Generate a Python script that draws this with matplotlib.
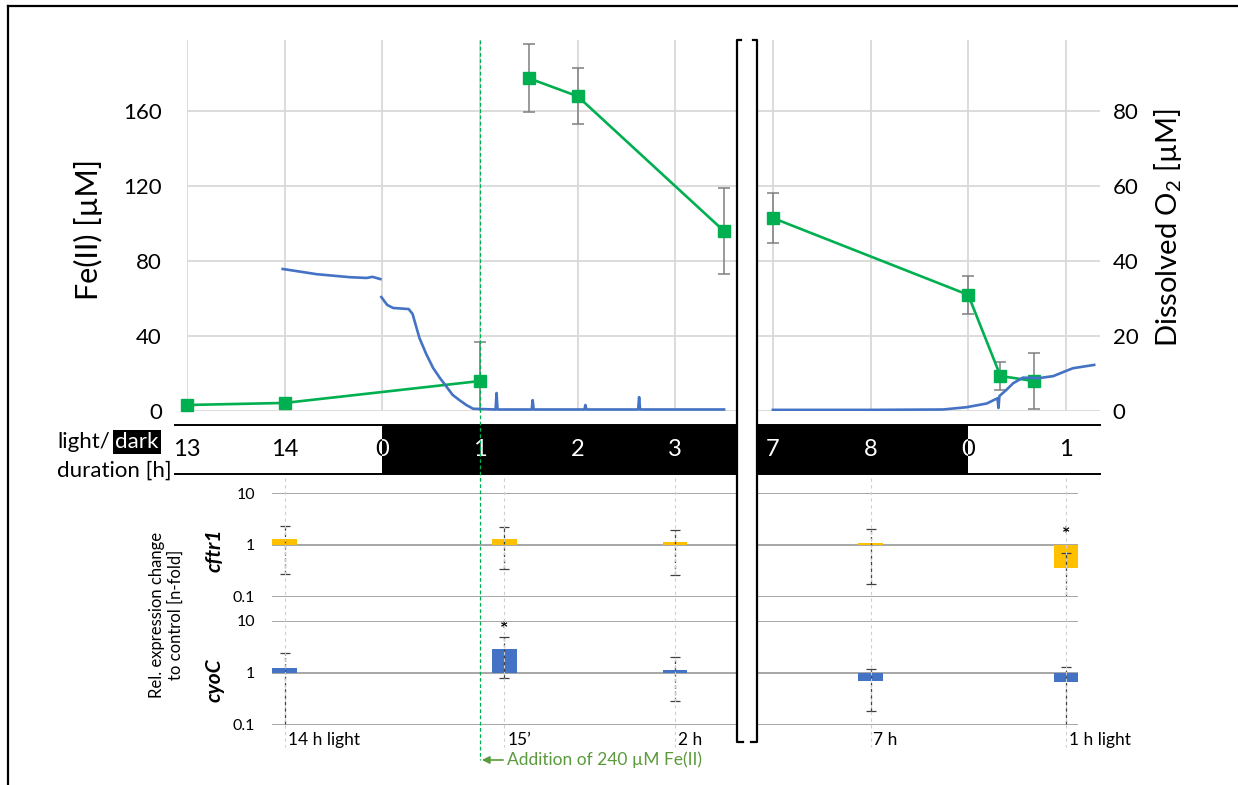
import numpy as np
import matplotlib

matplotlib.use("Agg")
import matplotlib.pyplot as plt
from matplotlib.transforms import Bbox, TransformedBbox, blended_transform_factory

plt.rcParams["font.family"] = ["Lato", "DejaVu Sans"]
plt.rcParams["mathtext.fontset"] = "custom"
plt.rcParams["mathtext.rm"] = "Lato"

# ─────────────────────────────────────────────
# DATA  (x = position on the time axis, 1 unit = 1 h)
# ─────────────────────────────────────────────
tick_u = [0, 1, 2, 3, 4, 5, 6, 7, 8, 9]
tick_lbl = ["13", "14", "0", "1", "2", "3", "7", "8", "0", "1"]
dark_span = (2, 8)
break_span = (5.632, 5.837)
addition_u = 3

# Fe(II) [µM], green; segments are not joined across the Fe addition / axis break
fe_u = [0, 1, 3, 3.5, 4, 5.5, 6, 8, 8.33, 8.67]
fe_val = [3.2, 4.3, 16, 177.6, 168, 96, 103, 62, 18.7, 16]
fe_err = [0, 0, 21, 18, 15, 23, 13.5, 10, 7.5, 15]
fe_segments = [(0, 3), (3, 6), (6, 10)]

# dissolved O2 [µM], blue sensor trace
o2_u1 = [0.98, 1.33, 1.67, 1.84, 1.90, 1.98]
o2_v1 = [37.9, 36.5, 35.7, 35.5, 35.8, 35.2]
o2_u2 = [1.99, 2.05, 2.11, 2.27, 2.31, 2.38, 2.45, 2.52, 2.59, 2.66, 2.72, 2.79,
         2.86, 2.93, 3.16, 3.17, 3.18, 3.53, 3.54, 3.55, 4.07, 4.08, 4.09,
         4.62, 4.63, 4.64, 5.50]
o2_v2 = [30.4, 28.3, 27.5, 27.2, 25.9, 19.5, 15.2, 11.5, 8.8, 6.4, 4.3, 2.9,
         1.6, 0.6, 0.4, 4.8, 0.4, 0.4, 2.9, 0.4, 0.4, 1.6, 0.4,
         0.4, 3.7, 0.4, 0.4]
o2_u3 = [6.0, 7.0, 7.74, 7.98, 8.19, 8.30, 8.31, 8.32, 8.39, 8.46, 8.56, 8.73, 8.87, 9.07, 9.29]
o2_v3 = [0.3, 0.3, 0.4, 1.0, 2.0, 3.4, 0.8, 4.0, 5.6, 7.4, 8.9, 8.8, 9.3, 11.4, 12.3]

# gene expression (n-fold to control)
sample_u = [1, 3.25, 5, 7, 9]
sample_lbl = ["14 h light", "15\u2019", "2 h", "7 h", "1 h light"]
cftr1 = [1.30, 1.30, 1.12, 1.10, 0.36]
cftr1_err = [1.02, 0.95, 0.85, 0.92, 0.34]
cyoc = [1.25, 2.85, 1.16, 0.69, 0.68]
cyoc_err = [1.17, 2.05, 0.87, 0.50, 0.60]
cftr1_star = [(9, 1.56)]
cyoc_star = [(3.25, 7.0)]

GREEN, BLUE, YELLOW = "#00B050", "#4472C4", "#FFC000"
W, H = 1238, 785
X0, PXU = 187, 97.65  # pixel of x=0, pixels per hour


def box(l, t, r, b):
    return [l / W, 1 - b / H, (r - l) / W, (b - t) / H]


def px2u(x):
    return (x - X0) / PXU


fig = plt.figure(figsize=(W / 100, H / 100), dpi=100)

# ─────────────────────────────────────────────
# TOP: Fe(II) + O2
# ─────────────────────────────────────────────
ax = fig.add_axes(box(187, 40, 1100, 411))
ax.set_xlim(0, px2u(1100))
ax.set_ylim(0, 198)
ax.set_xticks(tick_u)
ax.set_yticks([0, 40, 80, 120, 160])
ax.grid(color="#d9d9d9", lw=1.3)
ax.tick_params(length=0, labelbottom=False, labelsize=16, pad=18)
for s in ax.spines.values():
    s.set_visible(False)

for a, b in fe_segments:
    ax.plot(fe_u[a:b], fe_val[a:b], color=GREEN, lw=1.9, marker="s", ms=8,
            clip_on=False, zorder=3)
ax.errorbar(fe_u, fe_val, yerr=fe_err, fmt="none", ecolor="#7f7f7f",
            elinewidth=1.1, capsize=4.5, capthick=1.1, zorder=2)

ax2 = ax.twinx()
ax2.set_ylim(0, 99)
ax2.set_yticks([0, 20, 40, 60, 80])
ax2.tick_params(length=0, labelsize=16, pad=9)
for s in ax2.spines.values():
    s.set_visible(False)
for uu, vv in [(o2_u1, o2_v1), (o2_u2, o2_v2), (o2_u3, o2_v3)]:
    ax2.plot(uu, vv, color=BLUE, lw=1.9)

# ─────────────────────────────────────────────
# LIGHT / DARK BAR
# ─────────────────────────────────────────────
axb = fig.add_axes(box(175, 425, 1100, 474))
axb.set_xlim(px2u(175), px2u(1100))
axb.set_ylim(0, 1)
axb.axvspan(*dark_span, color="black", lw=0)
axb.set_xticks([])
axb.set_yticks([])
for k in ["left", "right"]:
    axb.spines[k].set_visible(False)
for k in ["top", "bottom"]:
    axb.spines[k].set_linewidth(1.4)

# labels sitting on a light/dark edge are drawn half black, half white
spans = [((-5, dark_span[0]), "black"), (dark_span, "white"), ((dark_span[1], 20), "black")]
for u, lbl in zip(tick_u, tick_lbl):
    for (a, b), col in spans:
        if u + 0.2 < a or u - 0.2 > b:
            continue
        t = axb.text(u, 0.5, lbl, ha="center", va="center", fontsize=17,
                     color=col, clip_on=True)
        t.set_clip_path(None)
        t.set_clip_box(TransformedBbox(Bbox([[a, -1], [b, 2]]), axb.transData))

# ─────────────────────────────────────────────
# BOTTOM: expression panels
# ─────────────────────────────────────────────
panels = []
for top, vals, errs, col, stars in [(493, cftr1, cftr1_err, YELLOW, cftr1_star),
                                     (621, cyoc, cyoc_err, BLUE, cyoc_star)]:
    axp = fig.add_axes(box(272, top, 1078, top + 104))
    axp.set_yscale("log")
    axp.set_ylim(0.1, 10)
    axp.set_xlim(px2u(272), px2u(1078))
    axp.set_yticks([0.1, 1, 10])
    axp.set_yticklabels(["0.1", "1", "10"])
    axp.minorticks_off()
    axp.set_xticks([])
    axp.grid(axis="y", color="#a6a6a6", lw=1.4)
    axp.tick_params(length=0, labelsize=11.5, pad=12)
    axp.patch.set_alpha(0)
    for s in axp.spines.values():
        s.set_visible(False)
    axp.bar(sample_u, np.array(vals) - 1, bottom=1, width=0.25, color=col, zorder=2)
    eb = axp.errorbar(sample_u, vals, yerr=errs, fmt="none", ecolor="#404040",
                      elinewidth=0.9, capsize=3.5, capthick=0.9, zorder=3)
    eb.lines[2][0].set_linestyle((0, (3, 2)))
    for sx, sy in stars:
        axp.text(sx, sy, "*", ha="center", va="center", fontsize=14, fontweight="bold")
    panels.append(axp)

for u, lbl in zip(sample_u, sample_lbl):
    panels[1].text(u + 0.03, -0.144, lbl, transform=blended_transform_factory(
        panels[1].transData, panels[1].transAxes), ha="left", va="center", fontsize=12.5)

# ─────────────────────────────────────────────
# OVERLAY: frame, break, labels
# ─────────────────────────────────────────────
ov = fig.add_axes([0, 0, 1, 1])
ov.set_xlim(0, W)
ov.set_ylim(H, 0)
ov.axis("off")
ov.patch.set_alpha(0)
ov.set_zorder(10)
bl = blended_transform_factory(ax.transData, ov.transData)

ov.plot([8, W], [6, 6], color="black", lw=1.6)
ov.plot([8, 8], [6, H], color="black", lw=1.6)

for u in sample_u:
    ov.plot([u, u], [478, 747], transform=bl, color="#cfcfcf", lw=0.8, ls=(0, (3, 3)), zorder=0)

ov.plot([addition_u, addition_u], [40, 760], transform=bl, color=GREEN, lw=0.9,
        ls=(0, (3, 2)), zorder=4)
ov.annotate("Addition of 240 \u00b5M Fe(II)", xy=(addition_u + 0.02, 760), xycoords=bl,
            xytext=(addition_u + 0.28, 760), textcoords=bl, ha="left", va="center",
            fontsize=12.5, color="#5b9a3c",
            arrowprops=dict(arrowstyle="-|>", color="#5b9a3c", lw=1.2,
                            mutation_scale=11, shrinkA=1, shrinkB=0))

b0, b1 = break_span
ov.fill_between(list(break_span), 37, 745, transform=bl, color="white", lw=0, zorder=5)
tk = 0.045
ov.plot([b0 + tk, b0, b0, b0 + tk * 1.4], [40, 40, 742, 742], transform=bl,
        color="black", lw=1.6, zorder=6)
ov.plot([b1 - tk, b1, b1, b1 - tk * 1.4], [40, 40, 742, 742], transform=bl,
        color="black", lw=1.6, zorder=6)

ov.text(88, 229, "Fe(II) [\u00b5M]", rotation=90, ha="center", va="center", fontsize=22)
ov.text(1168, 228, "Dissolved O$_\\mathrm{2}$ [\u00b5M]", rotation=90, ha="center",
        va="center", fontsize=21)
ov.text(110, 442, "light/", ha="right", va="center", fontsize=16)
ov.text(137, 442, "dark", ha="center", va="center", fontsize=16, color="white",
        bbox=dict(boxstyle="square,pad=0.1", fc="black", ec="none"))
ov.text(172, 471, "duration [h]", ha="right", va="center", fontsize=16)
ov.text(166, 615, "Rel. expression change\nto control [n-fold]", rotation=90,
        ha="center", va="center", fontsize=12, multialignment="center", linespacing=1.2)
ov.text(215, 550, "cftr1", rotation=90, ha="center", va="center", fontsize=15,
        style="italic", fontweight="bold")
ov.text(215, 680, "cyoC", rotation=90, ha="center", va="center", fontsize=15,
        style="italic", fontweight="bold")

fig.savefig("out.png", dpi=100)
